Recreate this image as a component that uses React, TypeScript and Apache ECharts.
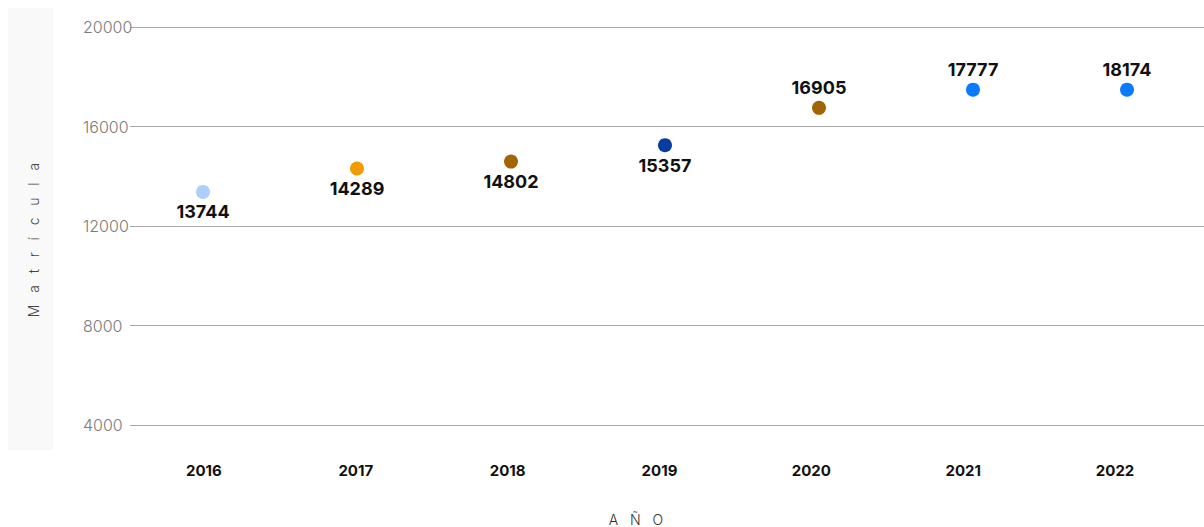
import React, { useEffect, useRef } from "react";
import * as echarts from "echarts";

const years = ["2016", "2017", "2018", "2019", "2020", "2021", "2022"];
// vertical position of each dot, as read against the gridlines
const plotted = [13370, 14310, 14590, 15250, 16750, 17480, 17480];
// value printed beside each dot
const labelValues = [13744, 14289, 14802, 15357, 16905, 17777, 18174];
const dotColors = ["#aecffb", "#f29a00", "#a46400", "#053ea0", "#a06400", "#0a7aff", "#0a7aff"];
const labelSides = ["bottom", "bottom", "bottom", "bottom", "top", "top", "top"];
const yMin = 4000;
const yMax = 20000;
const yStep = 4000;

const FONT = "Inter, 'Noto Sans', sans-serif";

export default function App() {
  const ref = useRef<HTMLDivElement>(null);
  useEffect(() => {
    if (!ref.current) return;
    const chart = echarts.init(ref.current, undefined, { renderer: "svg" });
    const gridBase = { top: 27, bottom: 102, containLabel: false };
    chart.setOption({
      animation: false,
      textStyle: { fontFamily: FONT },
      grid: [
        { ...gridBase, left: 126, right: 0 },
        { ...gridBase, left: 130, right: 0 },
        { ...gridBase, left: 128, right: 13 },
      ],
      xAxis: [
        { gridIndex: 0, type: "category", data: years, show: false },
        { gridIndex: 1, type: "category", data: years, show: false },
        {
          gridIndex: 2,
          type: "category",
          data: years,
          axisLine: { show: false },
          axisTick: { show: false },
          splitLine: { show: false },
          axisLabel: {
            margin: 38,
            color: "#111",
            fontWeight: "bold",
            fontSize: 15,
            fontFamily: FONT,
          },
        },
      ],
      yAxis: [
        { gridIndex: 0, type: "value", min: yMin, max: yMax, interval: yStep, show: false },
        {
          gridIndex: 1,
          type: "value",
          min: yMin,
          max: yMax,
          interval: yStep,
          axisLine: { show: false },
          axisTick: { show: false },
          axisLabel: {
            align: "left",
            margin: 47,
            color: "#7a7a7a",
            fontSize: 16,
            fontWeight: 300,
            fontFamily: FONT,
            padding: [0, 0, 8, 0],
            formatter: (v: number) => String(v),
          },
          splitLine: { show: true, lineStyle: { color: "#a8a8a8", width: 1 } },
        },
        { gridIndex: 2, type: "value", min: yMin, max: yMax, interval: yStep, show: false },
      ],
      series: [
        {
          type: "scatter",
          xAxisIndex: 0,
          yAxisIndex: 0,
          symbolSize: 14,
          data: plotted.map((v, i) => ({
            value: v,
            itemStyle: { color: dotColors[i], opacity: 1 },
            label: { position: labelSides[i] },
          })),
          label: {
            show: true,
            distance: 4,
            formatter: (p: any) => String(labelValues[p.dataIndex]),
            color: "#111",
            fontWeight: "bold",
            fontSize: 18,
            fontFamily: FONT,
          },
          emphasis: { disabled: true },
        },
      ],
      graphic: [
        {
          type: "rect",
          z: -10,
          shape: { x: 8, y: 8, width: 45, height: 442 },
          style: { fill: "#f9f9f9" },
        },
        {
          type: "text",
          x: 33,
          y: 240,
          rotation: Math.PI / 2,
          style: {
            text: "M   a   t   r   í   c   u   l   a",
            fill: "#444",
            font: `300 14px ${FONT}`,
            textAlign: "center",
            textVerticalAlign: "middle",
          },
        },
        {
          type: "text",
          x: 636,
          y: 519,
          style: {
            text: "A   Ñ   O",
            fill: "#333",
            font: `300 14px ${FONT}`,
            textAlign: "center",
            textVerticalAlign: "middle",
          },
        },
      ],
    });
    return () => chart.dispose();
  }, []);
  return (
    <div
      ref={ref}
      style={{ position: "fixed", left: 0, top: 0, width: 1204, height: 527, background: "#fff" }}
    />
  );
}
